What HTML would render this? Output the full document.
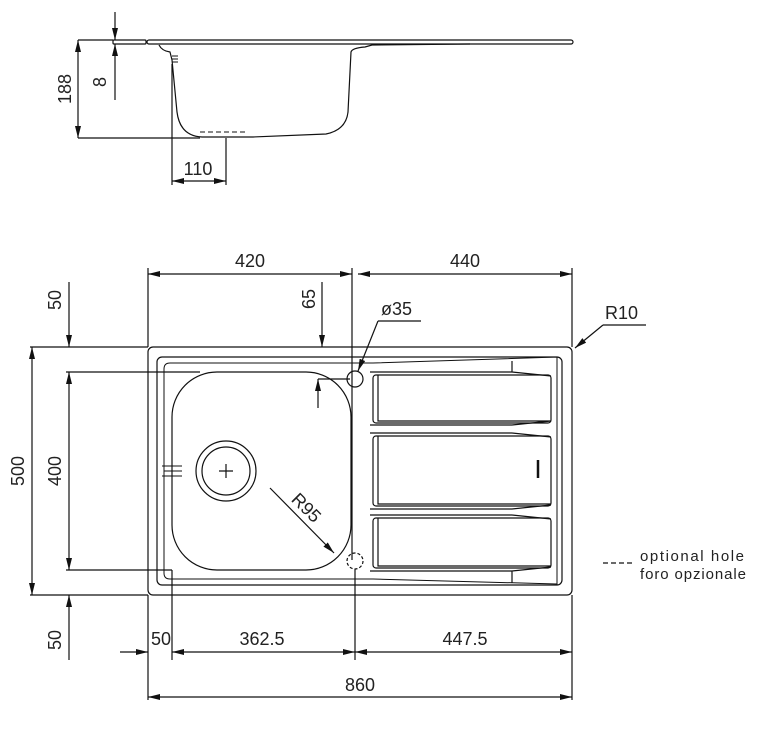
<!DOCTYPE html>
<html><head><style>html,body{margin:0;padding:0;background:#fff}svg{display:block}text{font-family:"Liberation Sans",sans-serif;fill:#222}</style></head>
<body>
<svg width="769" height="733" viewBox="0 0 769 733" xmlns="http://www.w3.org/2000/svg">
<defs>
<marker id="a" viewBox="0 0 12 6" refX="12" refY="3" markerWidth="12" markerHeight="6" orient="auto-start-reverse" markerUnits="userSpaceOnUse"><path d="M0,0 L12,3 L0,6 z" fill="#111"/></marker>
</defs>
<g fill="none" stroke="#111" stroke-width="1.2">
<rect x="113" y="40" width="33" height="4" rx="1"/>
<rect x="147" y="40" width="426" height="4" rx="2"/>
<path d="M159,45 Q162,51 170,52 L172,60 L177,112 Q180,136 202,137 L253,137 L326,134 Q346,130 348,112 L351,52 Q352,48 365,47 L372,45 L470,44"/>
<path d="M172,56 h6 M172,59 h6 M172,62 h6" stroke-width="0.9"/>
<path d="M200,132 h45" stroke-dasharray="5,3" stroke-width="0.9"/>
<path d="M78,40 H113 M78,138 H200"/>
<line x1="78" y1="40" x2="78" y2="138" marker-start="url(#a)" marker-end="url(#a)"/>
<line x1="115" y1="12" x2="115" y2="40" marker-end="url(#a)"/>
<line x1="115" y1="100" x2="115" y2="44" marker-end="url(#a)"/>
<path d="M172,64 V185 M226,138 V185"/>
<line x1="172" y1="181" x2="226" y2="181" marker-start="url(#a)" marker-end="url(#a)"/>

<rect x="148" y="347" width="424" height="248" rx="5"/>
<rect x="157" y="357" width="405" height="228" rx="5"/>
<path d="M373,363 H170 Q164,363 164,369 V573 Q164,579 170,579 H373 L557,584 V357 Z" stroke-width="1"/>
<rect x="172" y="372" width="179" height="198" rx="45"/>
<circle cx="226" cy="471" r="30"/>
<circle cx="226" cy="471" r="24"/>
<path d="M219,471 h14 M226,464 v14"/>
<path d="M162,466 h20 M164,471 h18 M162,476 h20" stroke-width="0.9"/>
<circle cx="355" cy="379" r="8"/>
<circle cx="355" cy="561" r="8" stroke-dasharray="3,2"/>
<rect x="373" y="375" width="178" height="48" rx="3"/>
<path d="M378,375 V421 H551 M370,372 H512 V361 M512,372 L551,376 M512,425 L551,421 M370,425 H512"/>
<rect x="373" y="436" width="178" height="70" rx="3"/>
<path d="M378,436 V504 H551 M370,433 H512 M512,433 L551,437 M512,509 L551,505 M370,509 H512"/>
<rect x="373" y="518" width="178" height="50" rx="3"/>
<path d="M378,518 V566 H551 M370,515 H512 M512,515 L551,519 M512,571 V583 M512,571 L551,567 M370,571 H512"/>
<path d="M538,460 v18" stroke-width="2.5"/>
<line x1="270" y1="488" x2="334" y2="553" marker-end="url(#a)"/>
<path d="M148,268 V347 M352,268 V560 M572,268 V347"/>
<line x1="148" y1="274" x2="352" y2="274" marker-start="url(#a)" marker-end="url(#a)"/>
<line x1="358" y1="274" x2="572" y2="274" marker-start="url(#a)" marker-end="url(#a)"/>
<line x1="322" y1="282" x2="322" y2="347" marker-end="url(#a)"/>
<line x1="318" y1="408" x2="318" y2="379" marker-end="url(#a)"/>
<path d="M318,379 H350"/>
<path d="M421,321 H378"/><line x1="378" y1="321" x2="358" y2="371" marker-end="url(#a)"/>
<path d="M646,325 H603"/><line x1="603" y1="325" x2="575" y2="348" marker-end="url(#a)"/>
<path d="M30,347 H148 M66,372 H200 M66,570 H172 M30,595 H148"/>
<line x1="32" y1="347" x2="32" y2="595" marker-start="url(#a)" marker-end="url(#a)"/>
<line x1="69" y1="372" x2="69" y2="570" marker-start="url(#a)" marker-end="url(#a)"/>
<line x1="69" y1="282" x2="69" y2="347" marker-end="url(#a)"/>
<line x1="69" y1="660" x2="69" y2="595" marker-end="url(#a)"/>
<path d="M148,595 V700 M172,570 V660 M355,569 V660 M572,595 V700"/>
<line x1="120" y1="652" x2="148" y2="652" marker-end="url(#a)"/>
<line x1="172" y1="652" x2="355" y2="652" marker-start="url(#a)" marker-end="url(#a)"/>
<line x1="355" y1="652" x2="572" y2="652" marker-start="url(#a)" marker-end="url(#a)"/>
<line x1="148" y1="697" x2="572" y2="697" marker-start="url(#a)" marker-end="url(#a)"/>
<path d="M603,563 h30" stroke-dasharray="5,3"/>
</g>
<g font-size="18">
<text x="198" y="175" text-anchor="middle">110</text>
<text transform="translate(71,89) rotate(-90)" text-anchor="middle">188</text>
<text transform="translate(106,82) rotate(-90)" text-anchor="middle">8</text>
<text x="250" y="267" text-anchor="middle">420</text>
<text x="465" y="267" text-anchor="middle">440</text>
<text transform="translate(61,300) rotate(-90)" text-anchor="middle">50</text>
<text transform="translate(315,299) rotate(-90)" text-anchor="middle">65</text>
<text x="381" y="315">ø35</text>
<text x="605" y="319">R10</text>
<text transform="translate(302,512) rotate(45)" text-anchor="middle">R95</text>
<text transform="translate(24,471) rotate(-90)" text-anchor="middle">500</text>
<text transform="translate(61,471) rotate(-90)" text-anchor="middle">400</text>
<text transform="translate(61,640) rotate(-90)" text-anchor="middle">50</text>
<text x="161" y="645" text-anchor="middle">50</text>
<text x="262" y="645" text-anchor="middle">362.5</text>
<text x="465" y="645" text-anchor="middle">447.5</text>
<text x="360" y="691" text-anchor="middle">860</text>
</g>
<text x="640" y="561" font-size="15" textLength="104">optional hole</text>
<text x="640" y="579" font-size="15" textLength="106">foro opzionale</text>
</svg>
</body></html>
